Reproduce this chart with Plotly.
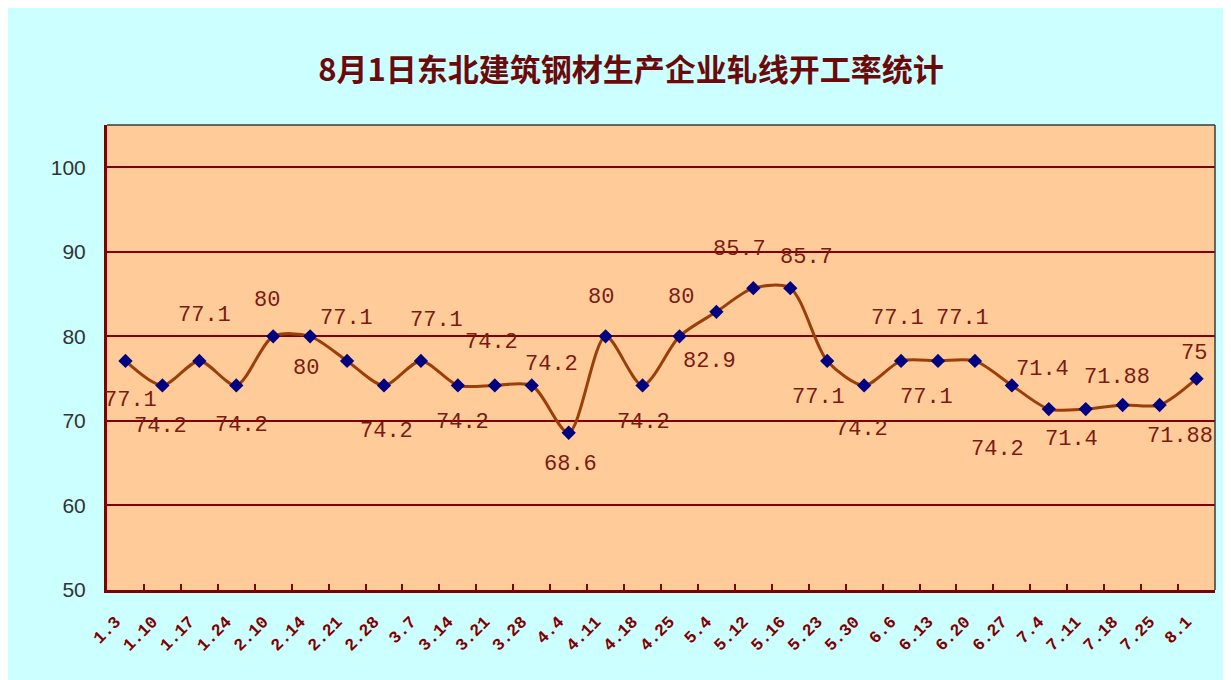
import plotly.graph_objects as go

# ---- data ----
categories = ["1.3", "1.10", "1.17", "1.24", "2.10", "2.14", "2.21", "2.28", "3.7", "3.14",
              "3.21", "3.28", "4.4", "4.11", "4.18", "4.25", "5.4", "5.12", "5.16", "5.23",
              "5.30", "6.6", "6.13", "6.20", "6.27", "7.4", "7.11", "7.18", "7.25", "8.1"]
rates = [77.1, 74.2, 77.1, 74.2, 80, 80, 77.1, 74.2, 77.1, 74.2,
         74.2, 74.2, 68.6, 80, 74.2, 80, 82.9, 85.7, 85.7, 77.1,
         74.2, 77.1, 77.1, 77.1, 74.2, 71.4, 71.4, 71.88, 71.88, 75]
y_ticks = [50, 60, 70, 80, 90, 100]
title_text = "8月1日东北建筑钢材生产企业轧线开工率统计"

# ---- label placement (pixel shifts, layout only) ----
label_shifts = [(5, -40), (-2, -41), (5, 45), (5, -40), (-6, 36), (-4, -32), (-1, 42), (2, -46),
                (16, 40), (5, -37), (-3, 43), (20, 21), (2, -32), (-5, 39), (1, -37), (2, 39),
                (-7, -50), (-14, 39), (16, 31), (-9, -37), (-3, -44), (-4, 42), (-12, -37), (-12, 42),
                (-14, -64), (-6, 40), (-14, -30), (-6, 28), (20, -31), (-3, 25)]

MAROON = "#800000"
fig = go.Figure()
fig.add_trace(go.Scatter(
    x=categories, y=rates, mode="lines+markers",
    line=dict(color="#9A3F0A", width=3, shape="spline", smoothing=0.8),
    marker=dict(symbol="diamond", size=11, color="#000080"),
    hoverinfo="x+y", showlegend=False,
))

annotations = []
for i, (v, (dx, dy)) in enumerate(zip(rates, label_shifts)):
    annotations.append(dict(
        x=i, y=v, xref="x", yref="y", text=f"{v:g}", showarrow=False,
        xshift=dx, yshift=dy,
        font=dict(family="Liberation Mono, DejaVu Sans Mono, monospace", size=22, color="#7A1A12"),
    ))

fig.update_layout(
    width=1223, height=672,
    margin=dict(l=99, r=16, t=117, b=90),
    paper_bgcolor="#CCFFFF",
    plot_bgcolor="#FFCC99",
    title=dict(text=title_text, x=0.5094, xanchor="center", y=0.9077, yanchor="middle",
               xref="container", yref="container",
               font=dict(family="Noto Sans CJK SC", size=31, color="#6B0A0A", weight="bold")),
    annotations=annotations,
    shapes=[
        dict(type="line", xref="paper", yref="paper", x0=0, x1=1, y0=1, y1=1,
             line=dict(color="#3A3A3A", width=1.5), layer="above"),
        dict(type="line", xref="paper", yref="paper", x0=1, x1=1, y0=0, y1=1,
             line=dict(color="#3A3A3A", width=1.5), layer="above"),
    ],
    xaxis=dict(
        type="category", tickangle=-45, tickson="boundaries", ticks="inside", ticklen=6,
        tickcolor=MAROON, tickwidth=2,
        showline=True, linecolor=MAROON, linewidth=3, showgrid=False,
        tickfont=dict(family="Liberation Mono, DejaVu Sans Mono", size=17, color="#800000", weight="bold"),
        ticklabelstandoff=12, ticklabelshift=-10,
        range=[-0.5, len(categories) - 0.5],
    ),
    yaxis=dict(
        range=[50, 105], tickvals=y_ticks, ticks="inside", ticklen=6, tickcolor=MAROON, tickwidth=2,
        showline=True, linecolor=MAROON, linewidth=3,
        showgrid=True, gridcolor=MAROON, gridwidth=2, zeroline=False,
        tickfont=dict(family="Liberation Sans, Arial", size=21, color="#333333"),
        ticklabelstandoff=14,
    ),
)

fig.write_html("out.html")
